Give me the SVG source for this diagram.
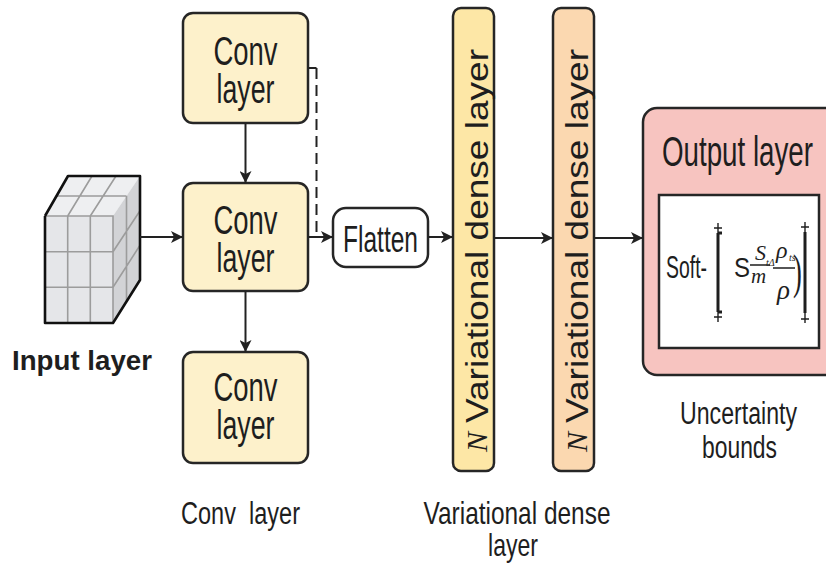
<svg xmlns="http://www.w3.org/2000/svg" width="826" height="570" viewBox="0 0 826 570">
  <defs>
    <style>
      .box { stroke: #262626; stroke-width: 2.5; }
      .conv { fill: #fdf1cb; }
      .vd1 { fill: #fde7a6; }
      .vd2 { fill: #fbd8b0; }
      .out { fill: #f7c4c0; }
      .txt { font-family: "Liberation Sans", Arial, sans-serif; fill: #1e1e1e; }
      .serif { font-family: "Liberation Serif", "Times New Roman", serif; font-style: italic; fill: #1e1e1e; }
      .roman { font-family: "Liberation Serif", "Times New Roman", serif; fill: #1e1e1e; }
      .edge { fill: none; stroke: #222; stroke-width: 2; }
      .dash { stroke-dasharray: 11 6; }
      .grid { fill: none; stroke: #9c9c9c; stroke-width: 1.6; }
      .outline { fill: none; stroke: #111; stroke-width: 2.6; stroke-linejoin: round; }
      .brk { stroke: #1e1e1e; fill: none; }
    </style>
    <marker id="arrow" viewBox="0 0 12 12" refX="12" refY="6" markerWidth="12" markerHeight="12" markerUnits="userSpaceOnUse" orient="auto">
      <path d="M0,0 L12,6 L0,12 L3,6 z" fill="#222"/>
    </marker>
  </defs>

  <rect width="826" height="570" fill="#ffffff"/>

  <!-- input tensor drawn as a 3x3 cube -->
  <g id="input-layer">
    <polygon points="45,216 113,216 140,176 68,176" fill="#eeeff1"/>
    <polygon points="113,216 140,176 140,280 113,323" fill="#d2d3d6"/>
    <rect x="45" y="216" width="68" height="107" fill="#e5e6e9"/>
    <!-- front grid -->
    <path class="grid" d="M67.7,216 V323 M90.3,216 V323 M45,251.7 H113 M45,287.3 H113 M45,216 H113 V323"/>
    <!-- top grid -->
    <path class="grid" d="M56.5,196 H126.5 M67.7,216 L92,176 M90.3,216 L116,176"/>
    <!-- side grid -->
    <path class="grid" d="M126.5,196 V301.5 M113,251.7 L140,210.7 M113,287.3 L140,245.3"/>
    <path class="outline" d="M45,216 V323 H113 L140,280 V176 H68 L45,216"/>
    <text class="txt" x="12" y="370" font-size="27" font-weight="bold" textLength="140" lengthAdjust="spacingAndGlyphs">Input layer</text>
  </g>

  <g id="conv-top">
    <rect class="box conv" x="183" y="13" width="125" height="110" rx="10"/>
    <text class="txt" x="245.5" y="65" font-size="41" text-anchor="middle" textLength="64" lengthAdjust="spacingAndGlyphs">Conv</text>
    <text class="txt" x="245.5" y="103" font-size="41" text-anchor="middle" textLength="58" lengthAdjust="spacingAndGlyphs">layer</text>
  </g>

  <g id="conv-middle">
    <rect class="box conv" x="183" y="183" width="125" height="108" rx="10"/>
    <text class="txt" x="245.5" y="234" font-size="41" text-anchor="middle" textLength="64" lengthAdjust="spacingAndGlyphs">Conv</text>
    <text class="txt" x="245.5" y="272" font-size="41" text-anchor="middle" textLength="58" lengthAdjust="spacingAndGlyphs">layer</text>
  </g>

  <g id="conv-bottom">
    <rect class="box conv" x="183" y="352" width="125" height="111" rx="10"/>
    <text class="txt" x="245.5" y="401" font-size="41" text-anchor="middle" textLength="64" lengthAdjust="spacingAndGlyphs">Conv</text>
    <text class="txt" x="245.5" y="439" font-size="41" text-anchor="middle" textLength="58" lengthAdjust="spacingAndGlyphs">layer</text>
  </g>

  <g id="flatten">
    <rect class="box" x="333" y="208" width="95" height="59" rx="13" fill="#ffffff"/>
    <text class="txt" x="380.5" y="252" font-size="36" text-anchor="middle" textLength="75" lengthAdjust="spacingAndGlyphs">Flatten</text>
  </g>

  <g id="variational-dense-1">
    <rect class="box vd1" x="453" y="8" width="41" height="463" rx="8"/>
    <text class="txt" transform="translate(488,236) rotate(-90)" font-size="32" text-anchor="middle" textLength="374" lengthAdjust="spacingAndGlyphs">Variational dense layer</text>
    <text class="serif" transform="translate(487,442) rotate(-90)" font-size="30" text-anchor="middle">N</text>
  </g>

  <g id="variational-dense-2">
    <rect class="box vd2" x="553" y="8" width="41" height="463" rx="8"/>
    <text class="txt" transform="translate(588,236) rotate(-90)" font-size="32" text-anchor="middle" textLength="374" lengthAdjust="spacingAndGlyphs">Variational dense layer</text>
    <text class="serif" transform="translate(587,442) rotate(-90)" font-size="30" text-anchor="middle">N</text>
  </g>

  <g id="output-layer">
    <rect class="box out" x="643" y="108" width="200" height="267" rx="14"/>
    <text class="txt" x="737.5" y="166" font-size="42" text-anchor="middle" textLength="151" lengthAdjust="spacingAndGlyphs">Output layer</text>
    <rect class="box" x="659" y="195" width="160" height="153" fill="#ffffff"/>
    <!-- softmax formula -->
    <text class="txt" x="666" y="278" font-size="31" textLength="41" lengthAdjust="spacingAndGlyphs">Soft-</text>
    <g class="brk">
      <path d="M718,223 V322 M714,228 H722 M714,317 H722" stroke-width="1.4"/>
      <path d="M718,233 V312 M718,233 H722 M718,312 H722" stroke-width="3"/>
      <path d="M805,222 V323 M801,227 H809 M801,319 H809" stroke-width="1.4"/>
      <path d="M805,232 V313" stroke-width="3"/>
      <path d="M750,265 H770 M773,268 H795" stroke-width="1.3"/>
    </g>
    <text class="txt" x="734" y="277" font-size="28" textLength="16" lengthAdjust="spacingAndGlyphs">S</text>
    <text class="serif" x="755" y="260" font-size="22">S</text>
    <text class="serif" x="766" y="266" font-size="10">tΔ</text>
    <text class="serif" x="751" y="283" font-size="21">m</text>
    <text class="serif" x="776" y="258" font-size="24">ρ</text>
    <text class="serif" x="789" y="261" font-size="10">ts</text>
    <text class="serif" x="777" y="299" font-size="27">ρ</text>
    <text class="roman" transform="translate(793,288) scale(0.55,1)" font-size="48">)</text>
  </g>

  <!-- captions under the columns -->
  <g id="captions">
    <text class="txt" x="240.5" y="524" font-size="31" text-anchor="middle" textLength="119" lengthAdjust="spacingAndGlyphs" xml:space="preserve">Conv  layer</text>
    <text class="txt" x="517" y="524" font-size="32" text-anchor="middle" textLength="187" lengthAdjust="spacingAndGlyphs">Variational dense</text>
    <text class="txt" x="513" y="556" font-size="32" text-anchor="middle" textLength="50" lengthAdjust="spacingAndGlyphs">layer</text>
    <text class="txt" x="738.5" y="424" font-size="31" text-anchor="middle" textLength="117" lengthAdjust="spacingAndGlyphs">Uncertainty</text>
    <text class="txt" x="739.5" y="458" font-size="31" text-anchor="middle" textLength="75" lengthAdjust="spacingAndGlyphs">bounds</text>
  </g>

  <g id="connectors">
    <path class="edge" d="M140,237 H183" marker-end="url(#arrow)"/>
    <path class="edge" d="M245.5,123 V183" marker-end="url(#arrow)"/>
    <path class="edge" d="M245.5,291 V352" marker-end="url(#arrow)"/>
    <path class="edge" d="M308,237 H333" marker-end="url(#arrow)"/>
    <path class="edge" d="M308,68 H316.5"/>
    <path class="edge dash" d="M316.5,68 V237"/>
    <path class="edge" d="M428,237 H453" marker-end="url(#arrow)"/>
    <path class="edge" d="M494,238 H553" marker-end="url(#arrow)"/>
    <path class="edge" d="M594,238 H643" marker-end="url(#arrow)"/>
  </g>
</svg>
